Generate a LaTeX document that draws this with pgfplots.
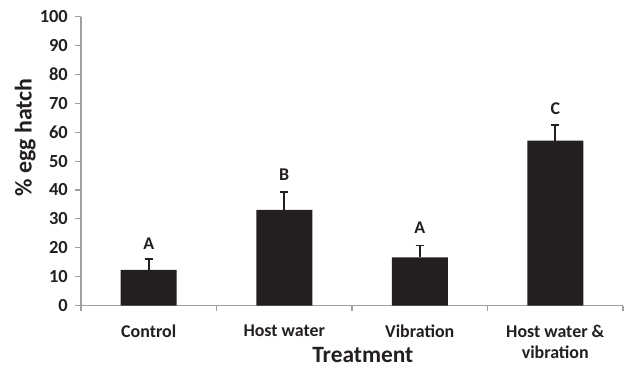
\documentclass[border=0pt]{standalone}
\usepackage{pgfplots}
\pgfplotsset{compat=1.18}
\usepackage{fontspec}
\setmainfont{Carlito}
\definecolor{barc}{RGB}{35,31,32}
\definecolor{axc}{RGB}{160,160,163}
\begin{document}
\begin{tikzpicture}
\begin{axis}[
  scale only axis,
  width=542bp, height=288.8bp,
  xmin=-0.5, xmax=3.5, ymin=0, ymax=100,
  axis x line*=bottom, axis y line*=left,
  axis line style={axc, line width=1.1bp},
  tick align=outside,
  ytick={0,10,...,100},
  xtick={0,1,2,3},
  xticklabels={Control, Host water, Vibration, {Host water \&\\vibration}},
  major x tick style={draw=none},
  minor xtick={-0.5,0.5,1.5,2.5,3.5},
  minor x tick style={axc, line width=1.1bp},
  minor tick length=5.7bp,
  major tick length=5.7bp,
  y tick style={axc, line width=1.1bp},
  /pgf/number format/assume math mode=true,
  yticklabel style={font=\fontsize{18.5}{21}\selectfont\bfseries, text=barc, xshift=-4bp},
  xticklabel style={font=\fontsize{18}{21}\selectfont\bfseries, text=barc, align=center, anchor=north, yshift=-10bp},
  ylabel={\% egg hatch},
  ylabel style={font=\fontsize{24}{28}\selectfont\bfseries, text=barc, at={(axis description cs:0,0.582)}, anchor=base, yshift=49.4bp},
  xlabel={Treatment},
  xlabel style={font=\fontsize{23.5}{28}\selectfont\bfseries, text=barc, at={(axis description cs:0.52,0)}, anchor=base, inner sep=0pt, yshift=-56.5bp},
  clip=false,
]
\addplot[ybar, bar width=56bp, fill=barc, draw=none,
  error bars/.cd, y dir=plus, y explicit,
  error bar style={line width=1.6bp, barc},
  error mark options={rotate=90, mark size=4bp, line width=1.6bp, barc}]
  coordinates {
  (0,12.3) +- (0,3.8)
  (1,33.1) +- (0,6.1)
  (2,16.7) +- (0,4.1)
  (3,57.1) +- (0,5.4)
  };
\addplot[draw=none, mark=none, nodes near coords, point meta=explicit symbolic,
  nodes near coords style={anchor=base, inner sep=0pt, font=\fontsize{18}{21}\selectfont\bfseries, text=barc}]
  coordinates {
  (0,19.5) [A]
  (1,43.2) [B]
  (2,24.8) [A]
  (3,66.0) [C]
  };
\end{axis}
\pgfresetboundingbox
\path[use as bounding box] ([xshift=-81bp,yshift=-63.5bp]current axis.south west) rectangle ([xshift=5bp,yshift=16.7bp]current axis.north east);
\end{tikzpicture}
\end{document}
